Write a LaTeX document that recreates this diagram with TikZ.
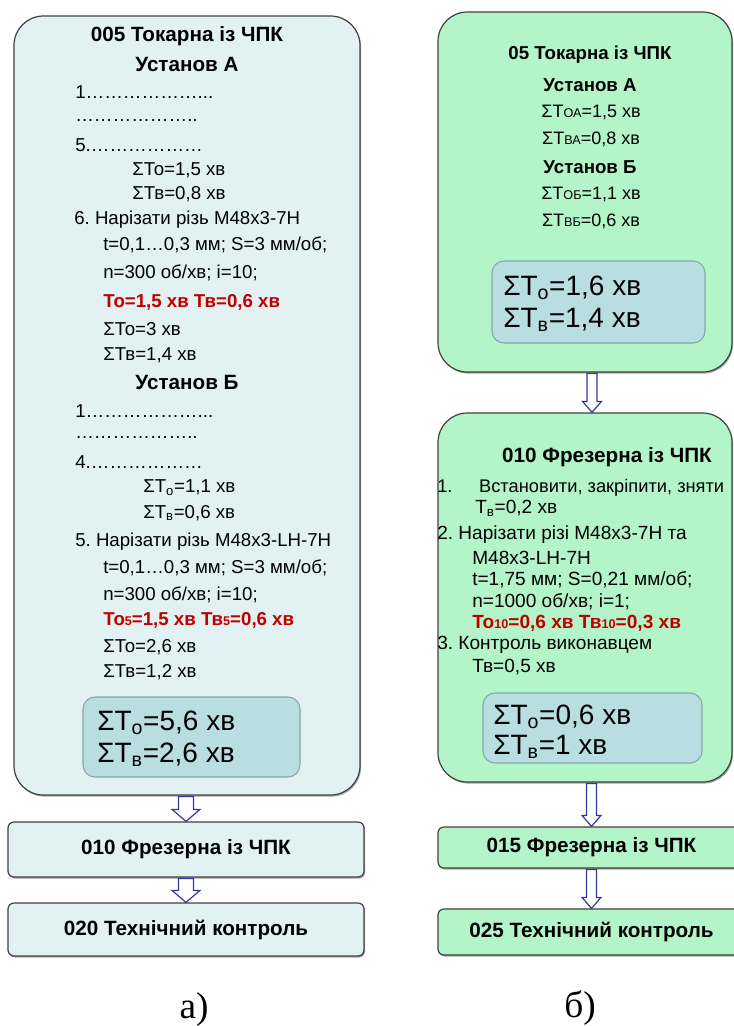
\documentclass[tikz,border=0pt]{standalone}
\usepackage{fontspec}
\setmainfont{Liberation Sans}
\newfontfamily\seriffont{Liberation Serif}
\usetikzlibrary{fit,calc,shadows}
\definecolor{lbfill}{RGB}{226,242,243}
\definecolor{grfill}{RGB}{179,245,201}
\definecolor{sumfill}{RGB}{185,222,226}
\definecolor{bordercol}{RGB}{64,64,64}
\definecolor{sumborder}{RGB}{130,168,172}
\definecolor{arrowcol}{RGB}{55,55,160}
\definecolor{redtxt}{RGB}{192,0,0}
\frenchspacing
\newcommand{\smx}[1]{{\fontsize{9.5}{9.5}\selectfont #1}}
\newcommand{\blockarr}[6]{%
 \draw[arrowline] ($(#1.south -| #2.north)+(#3-#4,1)$) -- ($(#2.north)+(#3-#4,-#6)$) -- ($(#2.north)+(#3-#5,-#6)$) -- ($(#2.north)+(#3,0)$) -- ($(#2.north)+(#3+#5,-#6)$) -- ($(#2.north)+(#3+#4,-#6)$) -- ($(#1.south -| #2.north)+(#3+#4,1)$) -- cycle;}
\begin{document}
\begin{tikzpicture}[x=0.75pt,y=-0.75pt,
 box/.style={draw=bordercol, line width=0.9pt, inner sep=0pt,
   drop shadow={shadow xshift=0.8pt, shadow yshift=-1.2pt, opacity=0.35, fill=black}},
 bigL/.style={box, fill=lbfill, rounded corners=22pt},
 bigR/.style={box, fill=grfill, rounded corners=22pt},
 smL/.style={box, fill=lbfill, rounded corners=4.5pt},
 smR/.style={box, fill=grfill, rounded corners=4.5pt},
 sumbox/.style={draw=sumborder, line width=0.8pt, fill=sumfill, rounded corners=9pt, inner sep=0pt},
 txt/.style={anchor=west, inner sep=0pt, font=\fontsize{14}{16}\selectfont},
 rtxt/.style={anchor=west, inner sep=0pt, text=redtxt, font=\fontsize{14}{16}\selectfont\bfseries},
 ttl/.style={anchor=center, inner sep=0pt, font=\fontsize{15.5}{18}\selectfont\bfseries},
 rttl/.style={anchor=center, inner sep=0pt, font=\fontsize{14}{16}\selectfont\bfseries},
 ctxt/.style={anchor=center, inner sep=0pt, font=\fontsize{13.5}{15}\selectfont},
 bigtxt/.style={anchor=west, inner sep=0pt, font=\fontsize{21}{23}\selectfont},
 lbl/.style={anchor=center, inner sep=0pt, font=\seriffont\fontsize{28}{30}\selectfont},
 arrowline/.style={draw=arrowcol, fill=white, line width=0.9pt, line join=miter}]
\useasboundingbox (0,0) rectangle (733,1026);

% ---------- left panel ----------
\node[bigL, fit={(14,16) (360,795)}] (L1) {};
\node[ttl] (l1) at (187,36) {005 Токарна із ЧПК};
\node[ttl] (l2) at (187,64) {Установ А};
\node[txt] (l3) at (75,92) {1………………...};
\node[txt] (l4) at (75,120) {………………..};
\node[txt] (l5) at (75,145) {5.………………};
\node[txt] (l6) at (132,170) {ΣТо=1,5 хв};
\node[txt] (l7) at (132,194) {ΣТв=0,8 хв};
\node[txt] (l8) at (74,220) {6. Нарізати різь М48х3-7Н};
\node[txt] (l9) at (103,245) {t=0,1…0,3 мм; S=3 мм/об;};
\node[txt] (l10) at (103,273) {n=300 об/хв; i=10;};
\node[rtxt] (l11) at (103,302) {То=1,5 хв Тв=0,6 хв};
\node[txt] (l12) at (103,329) {ΣТо=3 хв};
\node[txt] (l13) at (103,355) {ΣТв=1,4 хв};
\node[ttl] (l14) at (187,382) {Установ Б};
\node[txt] (l15) at (75,411) {1………………...};
\node[txt] (l16) at (75,437) {………………..};
\node[txt] (l17) at (75,462) {4.………………};
\node[txt] (l18) at (143,488) {ΣТ\textsubscript{о}=1,1 хв};
\node[txt] (l19) at (143,513) {ΣТ\textsubscript{в}=0,6 хв};
\node[txt] (l20) at (75,542) {5. Нарізати різь М48х3-LH-7Н};
\node[txt] (l21) at (103,568) {t=0,1…0,3 мм; S=3 мм/об;};
\node[txt] (l22) at (103,595) {n=300 об/хв; i=10;};
\node[rtxt] (l23) at (103,620) {То\smx{5}=1,5 хв Тв\smx{5}=0,6 хв};
\node[txt] (l24) at (103,647) {ΣТо=2,6 хв};
\node[txt] (l25) at (103,672) {ΣТв=1,2 хв};
\node[sumbox, fit={(83,697) (300,777)}] (LS) {};
\node[bigtxt] (ls1) at (97,723) {ΣТ\textsubscript{о}=5,6 хв};
\node[bigtxt] (ls2) at (97,755) {ΣТ\textsubscript{в}=2,6 хв};

\node[smL, fit={(8,822) (364,877)}] (L2) {};
\node[ttl] at (L2.center) {010 Фрезерна із ЧПК};
\node[smL, fit={(8,903) (364,956)}] (L3) {};
\node[ttl] at (L3.center) {020 Технічний контроль};
\node[lbl] (la) at (194,1010) {а)};

\blockarr{L1}{L2}{0}{7.5}{14}{12}
\blockarr{L2}{L3}{0}{7.5}{14}{12}

% ---------- right panel ----------
\node[bigR, fit={(438,12) (732,372)}] (R1) {};
\node[rttl] (r1) at (590,55) {05 Токарна із ЧПК};
\node[rttl] (r2) at (590,85) {Установ А};
\node[ctxt] (r3) at (591,112) {ΣТ\smx{ОА}=1,5 хв};
\node[ctxt] (r4) at (591,139) {ΣТ\smx{ВА}=0,8 хв};
\node[rttl] (r5) at (590,167) {Установ Б};
\node[ctxt] (r6) at (591,194) {ΣТ\smx{ОБ}=1,1 хв};
\node[ctxt] (r7) at (591,221) {ΣТ\smx{ВБ}=0,6 хв};
\node[sumbox, fit={(492,261) (705,343)}] (RS1) {};
\node[bigtxt] (rs1) at (503,288) {ΣТ\textsubscript{о}=1,6 хв};
\node[bigtxt] (rs2) at (503,320) {ΣТ\textsubscript{в}=1,4 хв};

\node[bigR, fit={(438,413) (732,782)}] (R2) {};
\node[ttl] (q1) at (607,457) {010 Фрезерна із ЧПК};
\node[txt, font=\fontsize{13.7}{16}\selectfont] (q2) at (437,488) {1.\hspace{20pt}Встановити, закріпити, зняти};
\node[txt, font=\fontsize{14.3}{16}\selectfont] (q3) at (475,508) {Т\textsubscript{в}=0,2 хв};
\node[txt, font=\fontsize{14.3}{16}\selectfont] (q4) at (437,535) {2. Нарізати різі М48х3-7Н та};
\node[txt, font=\fontsize{14.3}{16}\selectfont] (q5) at (472,558) {М48х3-LH-7Н};
\node[txt, font=\fontsize{14.3}{16}\selectfont] (q6) at (472,580) {t=1,75 мм; S=0,21 мм/об;};
\node[txt, font=\fontsize{14.3}{16}\selectfont] (q7) at (472,602) {n=1000 об/хв; i=1;};
\node[rtxt, font=\fontsize{14.3}{16}\selectfont\bfseries] (q8) at (472,623) {То\smx{10}=0,6 хв Тв\smx{10}=0,3 хв};
\node[txt, font=\fontsize{14.3}{16}\selectfont] (q9) at (437,645) {3. Контроль виконавцем};
\node[txt, font=\fontsize{14.3}{16}\selectfont] (q10) at (472,667) {Тв=0,5 хв};
\node[sumbox, fit={(483,693) (702,763)}] (RS2) {};
\node[bigtxt] (rs3) at (493,717) {ΣТ\textsubscript{о}=0,6 хв};
\node[bigtxt] (rs4) at (493,747) {ΣТ\textsubscript{в}=1 хв};

\node[smR, fit={(438,827) (745,868)}] (R3) {};
\node[ttl] at (R3.center) {015 Фрезерна із ЧПК};
\node[smR, fit={(438,909) (745,955)}] (R4) {};
\node[ttl] at (R4.center) {025 Технічний контроль};
\node[lbl] (rb) at (580,1008) {б)};

\blockarr{R1}{R2}{7}{5}{9.5}{11}
\blockarr{R2}{R3}{0}{5}{9.5}{11}
\blockarr{R3}{R4}{0}{5}{9.5}{11}
\end{tikzpicture}
\end{document}
